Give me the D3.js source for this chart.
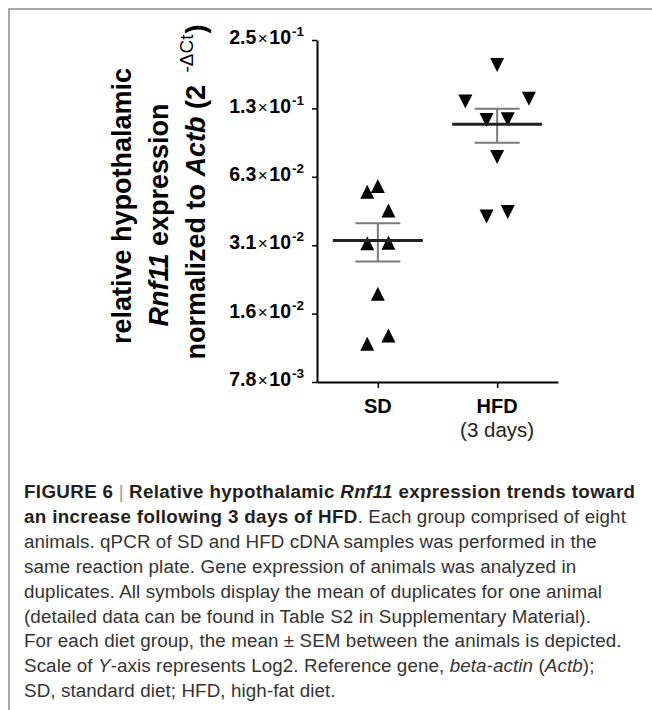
<!DOCTYPE html>
<html>
<head>
<meta charset="utf-8">
<script src="https://cdn.jsdelivr.net/npm/d3@7"></script>
<style>
  body { margin: 0; background: #fff; }
  svg { display: block; font-family: "Liberation Sans", Arial, sans-serif; }
</style>
</head>
<body>
<div id="chart"></div>
<script>
// values (2^-dCt, log2 axis)
var groups = ["SD", "HFD"];
var sdValues  = [0.0537, 0.0570, 0.0444, 0.0319, 0.0320, 0.0191, 0.0115, 0.0125];
var hfdValues = [0.194, 0.134, 0.138, 0.111, 0.112, 0.0764, 0.0418, 0.0437];
// side-by-side slot of each symbol inside its column
var sdSlots  = [-1, 0, 1, -1, 1, 0, -1, 1];
var hfdSlots = [0, -3, 3, -1, 1, 0, -1, 1];
var yTicks = [0.0078125, 0.015625, 0.03125, 0.0625, 0.125, 0.25];
var yTickMantissa = ["7.8", "1.6", "3.1", "6.3", "1.3", "2.5"];
var yTickExponent = ["-3", "-2", "-2", "-2", "-1", "-1"];

var captionLines = [
  [["FIGURE 6", "b"], [" | ", "sep"], ["Relative hypothalamic ", "b"], ["Rnf11", "bi"], [" expression trends toward", "b"]],
  [["an increase following 3 days of HFD", "b"], [". Each group comprised of eight", "r"]],
  [["animals. qPCR of SD and HFD cDNA samples was performed in the", "r"]],
  [["same reaction plate. Gene expression of animals was analyzed in", "r"]],
  [["duplicates. All symbols display the mean of duplicates for one animal", "r"]],
  [["(detailed data can be found in Table S2 in Supplementary Material).", "r"]],
  [["For each diet group, the mean \u00b1 SEM between the animals is depicted.", "r"]],
  [["Scale of ", "r"], ["Y", "i"], ["-axis represents Log2. Reference gene, ", "r"], ["beta-actin", "i"], [" (", "r"], ["Actb", "i"], [");", "r"]],
  [["SD, standard diet; HFD, high-fat diet.", "r"]]
];

var w = 652, h = 710;
var svg = d3.select("#chart").append("svg")
    .attr("width", w)
    .attr("height", h);

// frame (top + left only)
svg.append("path")
    .attr("d", "M9,710V9H652")
    .attr("fill", "none")
    .attr("stroke", "#8a8a8a")
    .attr("stroke-width", 1.5);

var xScale = d3.scalePoint()
    .domain(groups)
    .range([317, 558])
    .padding(0.51);
var yScale = d3.scaleLog()
    .base(2)
    .domain([0.0078125, 0.25])
    .range([382, 40]);
var slotW = 10.6;

// y axis
var yAxis = svg.append("g")
    .attr("transform", "translate(317,0)")
    .call(d3.axisLeft(yScale).tickValues(yTicks).tickSize(5).tickSizeOuter(0).tickFormat(""));
yAxis.select(".domain").attr("stroke-width", 2);
yAxis.selectAll(".tick line").attr("stroke-width", 1.5);
yAxis.selectAll(".tick").each(function(d, i) {
  var t = d3.select(this).append("text")
      .attr("x", -13)
      .attr("dy", "0.36em")
      .attr("text-anchor", "end")
      .attr("fill", "#000");
  t.append("tspan").attr("font-size", 19.5).attr("font-weight", "bold").text(yTickMantissa[i]);
  t.append("tspan").attr("font-size", 17).attr("dx", 1.5).text("\u00d7");
  t.append("tspan").attr("font-size", 19.5).attr("font-weight", "bold").attr("dx", 1.5).text("10");
  t.append("tspan").attr("font-size", 13.5).attr("font-weight", "bold").attr("dx", 1).attr("dy", -8).text(yTickExponent[i]);
});

// x axis
var xAxis = svg.append("g")
    .attr("transform", "translate(0,382)")
    .call(d3.axisBottom(xScale).tickSize(6).tickSizeOuter(0).tickFormat(""));
xAxis.select(".domain").attr("stroke-width", 2);
xAxis.selectAll(".tick line").attr("stroke-width", 1.5);

svg.append("text")
    .attr("x", xScale("SD"))
    .attr("y", 413)
    .attr("text-anchor", "middle")
    .attr("font-size", 20)
    .attr("font-weight", "bold")
    .text("SD");
svg.append("text")
    .attr("x", xScale("HFD"))
    .attr("y", 413)
    .attr("text-anchor", "middle")
    .attr("font-size", 20)
    .attr("font-weight", "bold")
    .text("HFD");
svg.append("text")
    .attr("x", xScale("HFD"))
    .attr("y", 437)
    .attr("text-anchor", "middle")
    .attr("font-size", 20.5)
    .attr("fill", "#222")
    .text("(3 days)");

// y axis title
var title = svg.append("g")
    .attr("font-size", 27)
    .attr("font-weight", "bold");
title.append("text")
    .attr("transform", "translate(131,206) rotate(-90)")
    .attr("text-anchor", "middle")
    .text("relative hypothalamic");
var t2 = title.append("text")
    .attr("transform", "translate(168,215) rotate(-90)")
    .attr("text-anchor", "middle");
t2.append("tspan").attr("font-style", "italic").text("Rnf11");
t2.append("tspan").text(" expression");
var t3 = title.append("text")
    .attr("transform", "translate(205,192) rotate(-90)")
    .attr("text-anchor", "middle");
t3.append("tspan").text("normalized to ");
t3.append("tspan").attr("font-style", "italic").text("Actb");
t3.append("tspan").text(" (2 ");
t3.append("tspan").attr("font-size", 19).attr("font-weight", "normal").attr("dx", 5).attr("dy", -12).text("-\u0394Ct");
t3.append("tspan").attr("dx", 1).attr("dy", 12).text(")");

// symbols
var triUp = {
  draw: function(ctx, size) {
    var s = Math.sqrt(size);
    ctx.moveTo(0, -s / 2);
    ctx.lineTo(s / 2, s / 2);
    ctx.lineTo(-s / 2, s / 2);
    ctx.closePath();
  }
};
var triDown = {
  draw: function(ctx, size) {
    var s = Math.sqrt(size);
    ctx.moveTo(0, s / 2);
    ctx.lineTo(s / 2, -s / 2);
    ctx.lineTo(-s / 2, -s / 2);
    ctx.closePath();
  }
};

var series = [
  { group: "SD", values: sdValues, slots: sdSlots, symbol: triUp },
  { group: "HFD", values: hfdValues, slots: hfdSlots, symbol: triDown }
];

series.forEach(function(s) {
  var cx = xScale(s.group);
  var m = d3.mean(s.values);
  var sem = d3.deviation(s.values) / Math.sqrt(s.values.length);

  // SEM whiskers
  var g = svg.append("g").attr("stroke", "#7a7a7a").attr("stroke-width", 2);
  g.append("line").attr("x1", cx).attr("x2", cx).attr("y1", yScale(m + sem)).attr("y2", yScale(m - sem));
  g.append("line").attr("x1", cx - 22.5).attr("x2", cx + 22.5).attr("y1", yScale(m + sem)).attr("y2", yScale(m + sem));
  g.append("line").attr("x1", cx - 22.5).attr("x2", cx + 22.5).attr("y1", yScale(m - sem)).attr("y2", yScale(m - sem));

  svg.selectAll(null)
    .data(s.values)
    .enter().append("path")
      .attr("d", d3.symbol().type(s.symbol).size(14 * 14))
      .attr("transform", function(d, i) {
        return "translate(" + (cx + s.slots[i] * slotW) + "," + yScale(d) + ")";
      })
      .attr("fill", "#000");

  // mean
  svg.append("line")
      .attr("x1", cx - 45).attr("x2", cx + 45)
      .attr("y1", yScale(m)).attr("y2", yScale(m))
      .attr("stroke", "#222")
      .attr("stroke-width", 3);
});

// caption
var cap = svg.append("g")
    .attr("font-size", 18.8)
    .attr("fill", "#333");
captionLines.forEach(function(line, i) {
  var t = cap.append("text")
      .attr("x", 24)
      .attr("y", 498 + i * 24.9)
      .attr("letter-spacing", 0.1);
  line.forEach(function(seg) {
    var sp = t.append("tspan").text(seg[0]);
    if (seg[1] == "b" || seg[1] == "bi") sp.attr("font-weight", "bold").attr("fill", "#231f20").attr("letter-spacing", 0.35);
    if (seg[1] == "i" || seg[1] == "bi") sp.attr("font-style", "italic");
    if (seg[1] == "sep") sp.attr("fill", "#999").attr("font-weight", "normal");
  });
});
</script>
</body>
</html>
